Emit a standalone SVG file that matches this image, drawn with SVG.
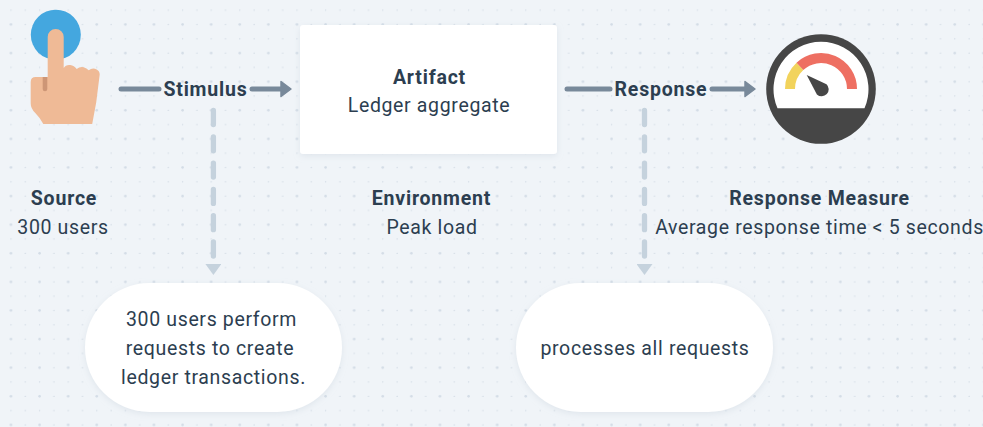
<svg xmlns="http://www.w3.org/2000/svg" width="983" height="427" viewBox="0 0 983 427">
<style>
text{font-family:"Roboto","Liberation Sans",sans-serif;fill:#2c3e50;font-size:19.500px;text-anchor:middle;letter-spacing:.65px}
.b{font-weight:700;letter-spacing:.8px}
.c{fill:none;stroke:#78899a;stroke-width:5;stroke-linecap:round}
.d{fill:none;stroke:#c5d2dd;stroke-width:5.300;stroke-linecap:round;stroke-dasharray:14 12.300}
</style>
<defs>
<pattern id="dots" width="28.6" height="28.6" patternUnits="userSpaceOnUse" x="7.4" y="20.2">
<circle cx="3.6" cy="4.3" r="1.3" fill="#d3dce6"/><circle cx="17.9" cy="4.3" r=".7" fill="#cbd5e0"/><circle cx="3.6" cy="18.6" r=".7" fill="#cbd5e0"/><circle cx="17.9" cy="18.6" r=".7" fill="#cbd5e0"/>
</pattern>
<filter id="s" x="-10%" y="-10%" width="120%" height="125%"><feDropShadow dx="0" dy="2" stdDeviation="3" flood-color="#b8c4d0" flood-opacity=".3"/></filter>
<marker id="a" markerUnits="userSpaceOnUse" markerWidth="13" markerHeight="18" refX="1" refY="9" orient="auto"><path d="M1 1.500 L11 9 L1 16.500Z" fill="#78899a" stroke="#78899a" stroke-width="1.500" stroke-linejoin="round"/></marker>
<marker id="g" markerUnits="userSpaceOnUse" markerWidth="12" markerHeight="16" refX="0" refY="8" orient="auto"><path d="M0 0 L11 8 L0 16Z" fill="#c5d2dd"/></marker>
</defs>
<rect width="983" height="427" fill="#f0f4f8"/>
<rect width="983" height="427" fill="url(#dots)"/>
<g id="connectors">
<path class="c" d="M121 89H159"/><path class="c" d="M252 89H281" marker-end="url(#a)"/>
<path class="c" d="M567 89H610"/><path class="c" d="M712 89H745" marker-end="url(#a)"/>
<path class="d" d="M213.400 110.500V264" marker-end="url(#g)"/>
<path class="d" d="M644.500 110.500V264" marker-end="url(#g)"/>
</g>
<g id="source-icon">
<circle cx="55.800" cy="34.700" r="25" fill="#44a7df"/>
<path d="M47.700 37a8 8 0 0 1 16 0V68q2-3.500 6.500-3 4 .5 6.500 4 3-2.500 7-1.800 3 .8 5 3 4-3 8-.7 3 1.500 3 5l-3.500 28-4 21.500H43.300q-3-6-8-11-4.600-4.500-4.600-9.500V82q0-5 5-5H47.700Z" fill="#efba96"/>
<path d="M42.700 77H47.300V89a2.300 2.300 0 0 1-4.600 0Z" fill="#cd9676"/>
</g>
<g id="source-label"><text class="b" x="64" y="205">Source</text><text x="63" y="234">300 users</text></g>
<g id="stimulus"><text class="b" x="205.500" y="96">Stimulus</text></g>
<g id="artifact">
<rect x="300" y="25" width="257" height="129" rx="3" fill="#fff" filter="url(#s)"/>
<text class="b" x="429.500" y="84">Artifact</text><text x="429" y="112">Ledger aggregate</text>
</g>
<g id="environment"><text class="b" x="431.500" y="205">Environment</text><text x="432" y="234">Peak load</text></g>
<g id="response"><text class="b" x="661" y="96">Response</text></g>
<g id="gauge">
<circle cx="821" cy="89" r="54.800" fill="#464646"/>
<path d="M777.500 108.300A47.500 47.500 0 1 1 864.500 108.300Z" fill="#fff"/>
<path d="M790 89A31 31 0 0 1 799.900 66.300" fill="none" stroke="#f2d35c" stroke-width="10"/>
<path d="M799.900 66.300A31 31 0 0 1 852 89" fill="none" stroke="#ee6f62" stroke-width="10"/>
<path d="M806.700 75L826.500 84.200A7 7 0 1 1 816.900 94.400Z" fill="#464646"/>
</g>
<g id="measure"><text class="b" x="819.500" y="205">Response Measure</text><text x="819.500" y="234">Average response time &lt; 5 seconds</text></g>
<g id="stimulus-note">
<rect x="85" y="283" width="257" height="129" rx="64.500" fill="#fff" filter="url(#s)"/>
<text x="211.500" y="326">300 users perform</text><text x="210" y="355">requests to create</text><text x="213.500" y="384">ledger transactions.</text>
</g>
<g id="response-note">
<rect x="516" y="283" width="257" height="129" rx="64.500" fill="#fff" filter="url(#s)"/>
<text x="645" y="355">processes all requests</text>
</g>
</svg>
